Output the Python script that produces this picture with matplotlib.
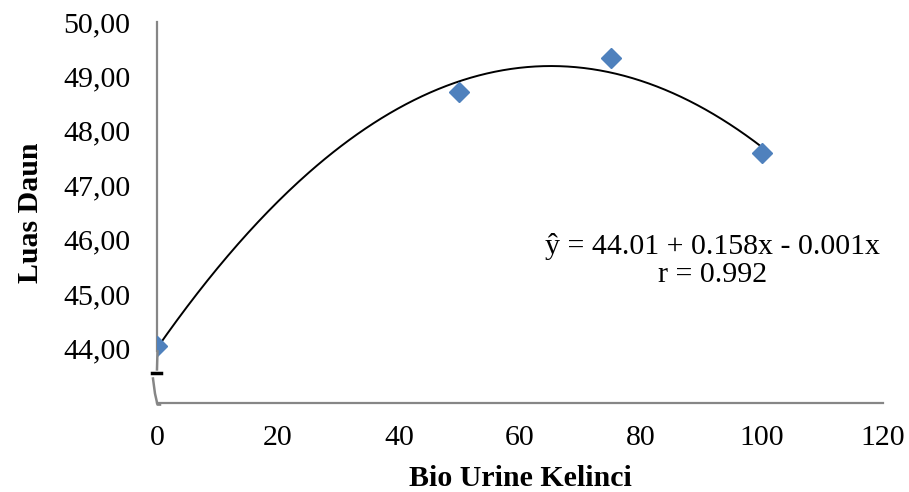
import numpy as np
import matplotlib
matplotlib.use("Agg")
import matplotlib.pyplot as plt

# Data
dose = [0, 50, 75, 100]
leaf_area = [44.04, 48.71, 49.34, 47.60]
x_ticks = [0, 20, 40, 60, 80, 100, 120]
y_ticks = [44, 45, 46, 47, 48, 49, 50]
y_tick_labels = ["44,00", "45,00", "46,00", "47,00", "48,00", "49,00", "50,00"]
equation = "ŷ = 44.01 + 0.158x - 0.001x\nr = 0.992"

plt.rcParams['font.family'] = ['Liberation Serif', 'DejaVu Serif']

fig = plt.figure(figsize=(9.09, 4.92), dpi=100)
ax = fig.add_axes([0.1727, 0.1809, 0.9714 - 0.1727, 0.9553 - 0.1809])

gray = "#868686"

# trend line (quadratic fit)
coef = np.polyfit(dose, leaf_area, 2)
xs = np.linspace(min(dose), max(dose), 300)
ax.plot(xs, np.polyval(coef, xs), color="black", lw=1.4, zorder=2)

ax.plot(dose, leaf_area, linestyle="none", marker="D", ms=10,
        color="#4F81BD", markeredgecolor="#4F81BD", zorder=3)

ax.set_xlim(0, 120)
ax.set_ylim(43, 50)
ax.set_xticks(x_ticks)
ax.set_xticklabels([str(v) for v in x_ticks])
ax.set_yticks(y_ticks)
ax.set_yticklabels(y_tick_labels)
ax.tick_params(axis="both", length=0, labelsize=21.5)
ax.tick_params(axis="y", pad=19)
ax.tick_params(axis="x", pad=16)

for s in ["top", "right"]:
    ax.spines[s].set_visible(False)
ax.spines["bottom"].set_color(gray)
ax.spines["bottom"].set_linewidth(1.6)
ax.spines["left"].set_color(gray)
ax.spines["left"].set_linewidth(1.6)
ax.spines["left"].set_bounds(43.95, 50)

# axis-break squiggle
def px2data(px, py):
    return (px - 157) / 6.05, 50 - (py - 22) / 54.2

seg1 = [px2data(157.5, 350), px2data(157, 368)]
ax.plot(*zip(*seg1), color=gray, lw=1.8, clip_on=False, zorder=4)
dash = [px2data(152, 372), px2data(161, 372)]
ax.plot(*zip(*dash), color="black", lw=2.5, clip_on=False, zorder=4)
seg2 = [px2data(153, 377), px2data(155, 392), px2data(157.5, 403), px2data(160, 403)]
ax.plot(*zip(*seg2), color=gray, lw=1.8, clip_on=False, zorder=4)

ax.set_xlabel("Bio Urine Kelinci", fontsize=21.5, fontweight="bold", labelpad=10)
ax.set_ylabel("Luas Daun", fontsize=21.5, fontweight="bold", labelpad=14)

ax.text(91.9, 45.61, equation, fontsize=21.5, ha="center", va="center",
        linespacing=1.1)

fig.savefig("out.png", dpi=100)
